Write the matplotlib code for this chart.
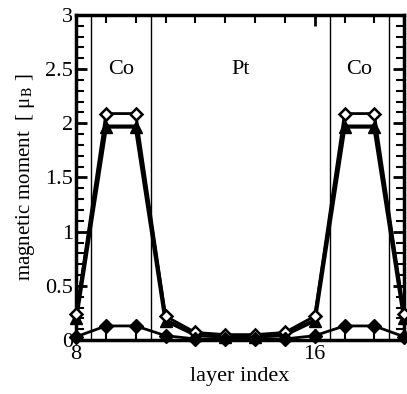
import numpy as np
import matplotlib
matplotlib.use("Agg")
import matplotlib.pyplot as plt
from matplotlib.ticker import MultipleLocator

layer = [8, 9, 10, 11, 12, 13, 14, 15, 16, 17, 18, 19]
m_open = [0.24, 2.09, 2.09, 0.22, 0.07, 0.05, 0.05, 0.07, 0.22, 2.09, 2.09, 0.24]
m_tri = [0.20, 1.97, 1.97, 0.18, 0.05, 0.03, 0.03, 0.05, 0.18, 1.97, 1.97, 0.20]
m_fill = [0.03, 0.13, 0.13, 0.04, 0.01, 0.01, 0.01, 0.01, 0.04, 0.13, 0.13, 0.03]

boundaries = [8.5, 10.5, 16.5, 18.5]
regions = [(9.5, "Co"), (13.5, "Pt"), (17.5, "Co")]
yticks = [0, 0.5, 1, 1.5, 2, 2.5, 3]
ylabels = ['0', '0.5', '1', '1.5', '2', '2.5', '3']

plt.rcParams['font.family'] = ['Liberation Serif', 'DejaVu Serif']
plt.rcParams['mathtext.fontset'] = 'stix'

fig = plt.figure(figsize=(4.07, 3.94), dpi=100)
ax = fig.add_axes([0.187, 0.137, 0.806, 0.825])

for b in boundaries:
    ax.axvline(b, color='black', lw=1.0, zorder=1)

ax.plot(layer, m_tri, color='black', lw=3, marker='^', ms=8, zorder=3, clip_on=False)
ax.plot(layer, m_open, color='black', lw=2, marker='D', ms=6, mfc='white', mec='black', mew=1.8, zorder=4, clip_on=False)
ax.plot(layer, m_fill, color='black', lw=2, marker='D', ms=7, zorder=5, clip_on=False)

for xp, name in regions:
    ax.text(xp, 2.5, name, ha='center', va='center', fontsize=16)

ax.set_xlim(8, 19)
ax.set_ylim(0, 3)
ax.set_xticks([8, 16])
ax.xaxis.set_minor_locator(MultipleLocator(1))
ax.set_yticks(yticks)
ax.set_yticklabels(ylabels)
ax.yaxis.set_minor_locator(MultipleLocator(0.1))
ax.tick_params(which='both', direction='in', top=True, right=True, labelsize=16)
ax.tick_params(axis='y', pad=2)
ax.tick_params(which='major', length=8, width=2)
ax.tick_params(which='minor', length=6, width=1.5)
for s in ax.spines.values():
    s.set_linewidth(2.5)

ax.set_xlabel('layer index', fontsize=16, labelpad=2)
ax.set_ylabel('magnetic moment  [ μ$_\\mathrm{B}$ ]', fontsize=15, labelpad=6)

fig.savefig('out.png', dpi=100)
